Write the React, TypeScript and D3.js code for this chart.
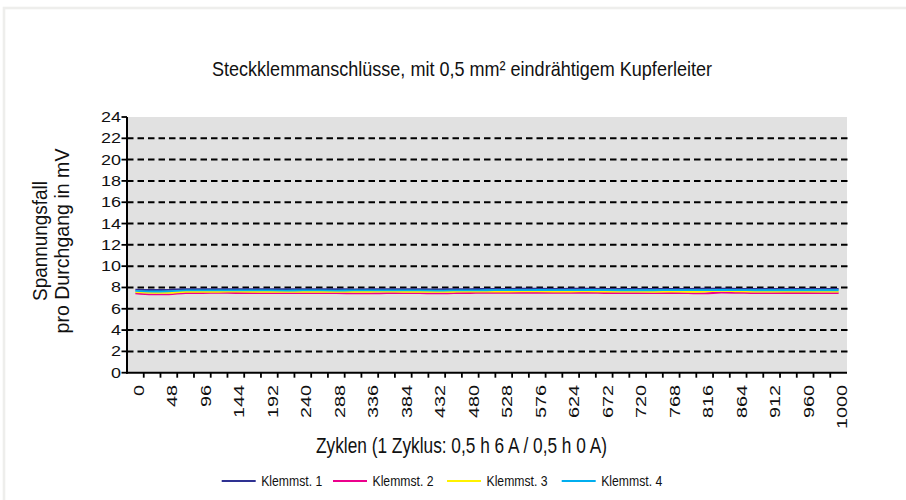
import React from "react";
import * as d3 from "d3";

const title = "Steckklemmanschlüsse, mit 0,5 mm² eindrähtigem Kupferleiter";
const xTitle = "Zyklen (1 Zyklus: 0,5 h 6 A / 0,5 h 0 A)";
const yTitle1 = "Spannungsfall";
const yTitle2 = "pro Durchgang in mV";

const cycles = [0, 24, 48, 72, 96, 120, 144, 168, 192, 216, 240, 264, 288, 312, 336, 360, 384, 408, 432, 456, 480, 504, 528, 552, 576, 600, 624, 648, 672, 696, 720, 744, 768, 792, 816, 840, 864, 888, 912, 936, 960, 984, 1000];
const xTickLabels = ["0", "48", "96", "144", "192", "240", "288", "336", "384", "432", "480", "528", "576", "624", "672", "720", "768", "816", "864", "912", "960", "1000"];
const yTicks = [0, 2, 4, 6, 8, 10, 12, 14, 16, 18, 20, 22, 24];

const seriesNames = ["Klemmst. 1", "Klemmst. 2", "Klemmst. 3", "Klemmst. 4"];
const seriesColors = ["#2e3192", "#ec008c", "#fff200", "#00aeef"];

const klemmst1 = [7.80, 7.76, 7.78, 7.84, 7.84, 7.85, 7.84, 7.84, 7.85, 7.84, 7.84, 7.85, 7.84, 7.83, 7.84, 7.84, 7.85, 7.84, 7.83, 7.84, 7.85, 7.86, 7.87, 7.88, 7.88, 7.87, 7.88, 7.88, 7.87, 7.86, 7.86, 7.86, 7.87, 7.87, 7.88, 7.89, 7.87, 7.86, 7.86, 7.86, 7.86, 7.86, 7.86];
const klemmst2 = [7.45, 7.36, 7.36, 7.48, 7.48, 7.49, 7.48, 7.48, 7.47, 7.46, 7.46, 7.47, 7.47, 7.45, 7.44, 7.46, 7.47, 7.46, 7.44, 7.46, 7.48, 7.50, 7.50, 7.50, 7.50, 7.49, 7.49, 7.50, 7.48, 7.47, 7.47, 7.47, 7.48, 7.46, 7.44, 7.52, 7.50, 7.47, 7.47, 7.48, 7.48, 7.47, 7.47];
const klemmst3 = [7.56, 7.50, 7.50, 7.60, 7.60, 7.60, 7.61, 7.60, 7.60, 7.59, 7.60, 7.60, 7.59, 7.58, 7.60, 7.62, 7.60, 7.60, 7.58, 7.60, 7.61, 7.62, 7.62, 7.63, 7.63, 7.62, 7.62, 7.63, 7.62, 7.61, 7.61, 7.60, 7.61, 7.60, 7.62, 7.68, 7.64, 7.62, 7.61, 7.62, 7.62, 7.61, 7.62];
const klemmst4 = [7.68, 7.62, 7.64, 7.72, 7.72, 7.72, 7.73, 7.72, 7.72, 7.71, 7.72, 7.72, 7.71, 7.72, 7.72, 7.73, 7.72, 7.72, 7.71, 7.72, 7.73, 7.74, 7.75, 7.75, 7.76, 7.75, 7.75, 7.76, 7.75, 7.74, 7.74, 7.74, 7.75, 7.75, 7.75, 7.76, 7.75, 7.74, 7.74, 7.74, 7.74, 7.74, 7.74];

const allSeries = [klemmst1, klemmst2, klemmst3, klemmst4];

const W = 906;
const H = 500;
const plotLeft = 127;
const plotRight = 847;
const plotTop = 117;
const plotBottom = 372.7;

const condensed = "'Liberation Sans Narrow', 'Liberation Sans', Arial, sans-serif";
const arial = "'Liberation Sans', Arial, sans-serif";

export default function App() {
  const x = d3
    .scaleBand<number>()
    .domain(cycles.map((_, i) => i))
    .range([plotLeft, plotRight])
    .paddingInner(0)
    .paddingOuter(0);
  const bw = x.bandwidth();
  const cx = (i: number) => (x(i) as number) + bw / 2;
  const y = d3.scaleLinear().domain([0, 24]).range([plotBottom, plotTop]);

  const line = d3
    .line<number>()
    .x((_, i) => cx(i))
    .y((d) => y(d))
    .curve(d3.curveMonotoneX);

  const labelIdx = cycles
    .map((c, i) => ({ c, i }))
    .filter((d) => xTickLabels.includes(String(d.c)));

  const legendLineX = [221.7, 333, 447, 561.7];

  return (
    <svg
      width={W}
      height={H}
      style={{ position: "absolute", left: 0, top: 0, background: "#fff" }}
    >
      <rect x={4} y={8} width={1200} height={1200} fill="none" stroke="#eeeeec" strokeWidth={2.6} />

      <text
        x={212}
        y={75.5}
        fontFamily={condensed}
        fontSize={21}
        textLength={500}
        lengthAdjust="spacingAndGlyphs"
        fill="#111"
      >
        {title}
      </text>

      {/* plot background */}
      <rect
        x={plotLeft + 1}
        y={plotTop}
        width={plotRight - plotLeft - 1}
        height={plotBottom - plotTop}
        fill="#e1e1e1"
      />

      {/* grid lines */}
      {yTicks
        .filter((t) => t > 0 && t < 24)
        .map((t) => (
          <line
            key={"g" + t}
            x1={plotLeft}
            x2={plotRight + 1.5}
            y1={y(t)}
            y2={y(t)}
            stroke="#000"
            strokeWidth={2}
            strokeDasharray="6.5,4"
          />
        ))}

      {/* series */}
      {allSeries.map((s, k) => (
        <path
          key={"s" + k}
          d={line(s) || ""}
          fill="none"
          stroke={seriesColors[k]}
          strokeWidth={1.8}
        />
      ))}

      {/* y axis */}
      <line x1={plotLeft} x2={plotLeft} y1={plotTop} y2={plotBottom + 1} stroke="#000" strokeWidth={2} />
      {yTicks.map((t) => (
        <g key={"yt" + t}>
          <line x1={plotLeft - 5.5} x2={plotLeft} y1={y(t)} y2={y(t)} stroke="#000" strokeWidth={1.8} />
          <text
            x={121}
            y={y(t) + 5}
            textAnchor="end"
            fontFamily={arial}
            fontSize={14}
            textLength={String(t).length * 10}
            lengthAdjust="spacingAndGlyphs"
            fill="#111"
          >
            {t}
          </text>
        </g>
      ))}

      {/* x axis */}
      <line x1={plotLeft - 1} x2={plotRight} y1={plotBottom} y2={plotBottom} stroke="#000" strokeWidth={2} />
      {cycles.map((_, i) =>
        i === 0 ? null : (
          <line
            key={"xt" + i}
            x1={x(i) as number}
            x2={x(i) as number}
            y1={plotBottom}
            y2={plotBottom + 5}
            stroke="#000"
            strokeWidth={1.8}
          />
        )
      )}
      {labelIdx.map(({ c, i }) => (
        <text
          key={"xl" + i}
          transform={`translate(${cx(i) + 8.5},${385}) rotate(-90)`}
          textAnchor="end"
          fontFamily={arial}
          fontSize={14}
          textLength={String(c).length * 11}
          lengthAdjust="spacingAndGlyphs"
          fill="#111"
        >
          {c}
        </text>
      ))}

      {/* axis titles */}
      <text
        transform={`translate(47,241) rotate(-90)`}
        textAnchor="middle"
        fontFamily={condensed}
        fontSize={20.5}
        textLength={120}
        lengthAdjust="spacingAndGlyphs"
        fill="#111"
      >
        {yTitle1}
      </text>
      <text
        transform={`translate(69,241) rotate(-90)`}
        textAnchor="middle"
        fontFamily={condensed}
        fontSize={20.5}
        textLength={185}
        lengthAdjust="spacingAndGlyphs"
        fill="#111"
      >
        {yTitle2}
      </text>
      <text
        x={316}
        y={452.5}
        fontFamily={condensed}
        fontSize={21.5}
        textLength={291}
        lengthAdjust="spacingAndGlyphs"
        fill="#111"
      >
        {xTitle}
      </text>

      {/* legend */}
      {seriesNames.map((n, k) => (
        <g key={"lg" + k}>
          <line
            x1={legendLineX[k]}
            x2={legendLineX[k] + 34}
            y1={481}
            y2={481}
            stroke={seriesColors[k]}
            strokeWidth={2}
          />
          <text
            x={legendLineX[k] + 39.5}
            y={486}
            fontFamily={condensed}
            fontSize={15.5}
            textLength={61}
            lengthAdjust="spacingAndGlyphs"
            fill="#111"
          >
            {n}
          </text>
        </g>
      ))}
    </svg>
  );
}
